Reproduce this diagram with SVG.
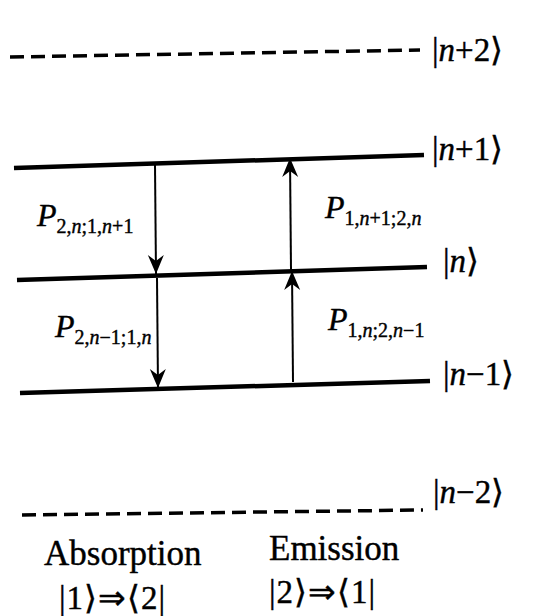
<svg xmlns="http://www.w3.org/2000/svg" width="546" height="616" viewBox="0 0 546 616">
<style>
.lvl{stroke:#000;stroke-width:4.5;fill:none}
.dash{stroke:#000;stroke-width:3.5;fill:none;stroke-dasharray:14 7}
.arr{stroke:#000;stroke-width:2;fill:none;marker-end:url(#ah)}
.t{fill:#000;stroke:#000;stroke-width:0.4}
.it{font-style:italic}
</style>
<defs>
<marker id="ah" markerUnits="userSpaceOnUse" markerWidth="24" markerHeight="20" viewBox="-20 -10 24 20" refX="0" refY="0" orient="auto">
<path d="M0,0 L-19,-8 L-13,0 L-19,8 Z" fill="#000"/>
</marker>
</defs>
<rect width="546" height="616" fill="#fff"/>
<g id="level-n-plus-2">
<line class="dash" x1="10" y1="57" x2="420" y2="50"/>
<text class="t" font-family="Liberation Serif" font-size="33" x="432" y="61">|<tspan class="it">n</tspan>+2⟩</text>
</g>
<g id="level-n-plus-1">
<line class="lvl" x1="14" y1="168" x2="424" y2="155"/>
<text class="t" font-family="Liberation Serif" font-size="33" x="432" y="160">|<tspan class="it">n</tspan>+1⟩</text>
</g>
<g id="level-n">
<line class="lvl" x1="17" y1="280" x2="427" y2="267"/>
<text class="t" font-family="Liberation Serif" font-size="33" x="443" y="272">|<tspan class="it">n</tspan>⟩</text>
</g>
<g id="level-n-minus-1">
<line class="lvl" x1="20" y1="393" x2="430" y2="381"/>
<text class="t" font-family="Liberation Serif" font-size="33" x="443" y="385">|<tspan class="it">n</tspan>−1⟩</text>
</g>
<g id="level-n-minus-2">
<line class="dash" x1="22" y1="515" x2="423" y2="510"/>
<text class="t" font-family="Liberation Serif" font-size="33" x="433" y="503">|<tspan class="it">n</tspan>−2⟩</text>
</g>
<g id="connectors">
<line class="arr" x1="155" y1="165" x2="156" y2="274"/>
<line class="arr" x1="157" y1="278" x2="158" y2="388"/>
<line class="arr" x1="291" y1="270" x2="290" y2="158"/>
<line class="arr" x1="293" y1="382" x2="292" y2="271"/>
</g>
<g id="label-abs-upper">
<text class="t" font-family="Liberation Serif" font-size="32" font-style="italic" x="37" y="226">P<tspan font-size="20" font-style="normal" dy="7">2,<tspan class="it">n</tspan>;1,<tspan class="it">n</tspan>+1</tspan></text>
</g>
<g id="label-em-upper">
<text class="t" font-family="Liberation Serif" font-size="32" font-style="italic" x="325" y="218">P<tspan font-size="20" font-style="normal" dy="7">1,<tspan class="it">n</tspan>+1;2,<tspan class="it">n</tspan></tspan></text>
</g>
<g id="label-abs-lower">
<text class="t" font-family="Liberation Serif" font-size="32" font-style="italic" x="55" y="337">P<tspan font-size="20" font-style="normal" dy="7">2,<tspan class="it">n</tspan>−1;1,<tspan class="it">n</tspan></tspan></text>
</g>
<g id="label-em-lower">
<text class="t" font-family="Liberation Serif" font-size="32" font-style="italic" x="328" y="330">P<tspan font-size="20" font-style="normal" dy="7">1,<tspan class="it">n</tspan>;2,<tspan class="it">n</tspan>−1</tspan></text>
</g>
<g id="caption-absorption">
<text class="t" font-family="Liberation Serif" font-size="35" x="44" y="565">Absorption</text>
<text class="t" font-family="Liberation Serif" font-size="33" letter-spacing="1" x="59" y="609">|1⟩⇒⟨2|</text>
</g>
<g id="caption-emission">
<text class="t" font-family="Liberation Serif" font-size="35" x="269" y="560">Emission</text>
<text class="t" font-family="Liberation Serif" font-size="33" letter-spacing="1" x="269" y="603">|2⟩⇒⟨1|</text>
</g>
</svg>
